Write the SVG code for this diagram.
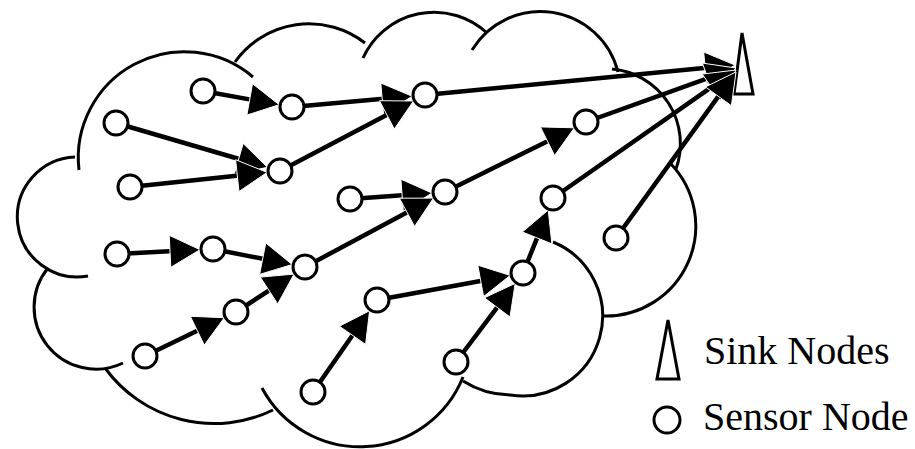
<svg xmlns="http://www.w3.org/2000/svg" width="915" height="449" viewBox="0 0 915 449">
<style>
.cloud{fill:none;stroke:#000;stroke-width:3}
.edge{stroke:#000;stroke-width:4.5;fill:none}
.ah{fill:#000;stroke:#fff;stroke-width:1;stroke-linejoin:miter}
.node{fill:#fff;stroke:#000;stroke-width:3}
.sink{fill:#fff;stroke:#000;stroke-width:3;stroke-linejoin:miter}
.lbl{font-family:"Liberation Serif","Times New Roman","DejaVu Serif",serif;font-size:40px;fill:#000}
</style>
<rect width="915" height="449" fill="#fff"/>
<g id="cloud" class="cloud">
<path d="M88,276 A60,60 0 1 1 75,157"/>
<path d="M79,170 A106,106 0 0 1 253,77"/>
<path d="M235,62 A91,91 0 0 1 365,43"/>
<path d="M363,58 A78,78 0 0 1 487,33"/>
<path d="M472,50 A80,80 0 0 1 618,72"/>
<path d="M612,69 A75,75 0 0 1 676,169"/>
<path d="M670,163 A90,90 0 0 1 603,316"/>
<path d="M553,242 A80,80 0 0 1 510,395 A91,91 0 0 1 463,381"/>
<path d="M463,377 A111,111 0 0 1 262,388"/>
<path d="M273,410 A135,135 0 0 1 105,368"/>
<path d="M123,363 A62,62 0 0 1 48,268"/>
</g>
<g id="sink">
<polygon class="sink" points="742,33 734,94 753,94"/>
</g>
<g id="connectors">
<line class="edge" x1="203" y1="91" x2="253.6" y2="100.1"/>
<polygon class="ah" points="279.2,104.7 246.9,115.1 252.5,83.7"/>
<line class="edge" x1="292" y1="107" x2="386.2" y2="98.5"/>
<polygon class="ah" points="412.1,96.2 383.6,114.8 380.8,83.0"/>
<line class="edge" x1="280" y1="171" x2="390.4" y2="113.0"/>
<polygon class="ah" points="413.5,101.0 394.3,129.1 379.5,100.7"/>
<line class="edge" x1="116" y1="123" x2="242.5" y2="160.0"/>
<polygon class="ah" points="267.5,167.3 234.2,174.3 243.2,143.5"/>
<line class="edge" x1="130" y1="187" x2="241.3" y2="175.2"/>
<polygon class="ah" points="267.1,172.4 239.0,191.5 235.6,159.7"/>
<line class="edge" x1="350" y1="199" x2="406.1" y2="194.9"/>
<polygon class="ah" points="432.0,193.0 403.3,211.2 400.9,179.2"/>
<line class="edge" x1="305" y1="267" x2="410.5" y2="210.4"/>
<polygon class="ah" points="433.5,198.1 414.6,226.4 399.4,198.2"/>
<line class="edge" x1="445" y1="192" x2="551.1" y2="139.4"/>
<polygon class="ah" points="574.4,127.8 554.6,155.5 540.4,126.9"/>
<line class="edge" x1="117" y1="254" x2="174.0" y2="251.1"/>
<polygon class="ah" points="200.0,249.7 170.8,267.3 169.2,235.3"/>
<line class="edge" x1="213" y1="249" x2="266.6" y2="259.5"/>
<polygon class="ah" points="292.2,264.5 259.6,274.4 265.8,243.0"/>
<line class="edge" x1="236" y1="312" x2="272.3" y2="288.3"/>
<polygon class="ah" points="294.1,274.1 277.7,303.9 260.3,277.1"/>
<line class="edge" x1="145" y1="356" x2="200.9" y2="329.0"/>
<polygon class="ah" points="224.3,317.7 204.3,345.1 190.3,316.3"/>
<line class="edge" x1="313" y1="392" x2="354.8" y2="332.0"/>
<polygon class="ah" points="369.6,310.7 365.6,344.4 339.4,326.2"/>
<line class="edge" x1="456" y1="362" x2="499.6" y2="304.2"/>
<polygon class="ah" points="515.2,283.4 510.0,317.0 484.4,297.8"/>
<line class="edge" x1="377" y1="300" x2="484.6" y2="280.2"/>
<polygon class="ah" points="510.2,275.4 483.6,296.6 477.8,265.2"/>
<line class="edge" x1="523" y1="273" x2="538.6" y2="234.2"/>
<polygon class="ah" points="548.2,210.1 551.9,243.8 522.3,232.0"/>
<line class="edge" x1="425" y1="95" x2="709.2" y2="67.5"/>
<polygon class="ah" points="735,65 706.7,83.8 703.7,52.0"/>
<line class="edge" x1="586" y1="122" x2="711.6" y2="76.8"/>
<polygon class="ah" points="736,68 713.2,93.3 702.4,63.1"/>
<line class="edge" x1="553" y1="198" x2="714.7" y2="84.9"/>
<polygon class="ah" points="736,70 720.6,100.3 702.2,74.1"/>
<line class="edge" x1="616" y1="238" x2="720.7" y2="93.1"/>
<polygon class="ah" points="736,72 731.4,105.7 705.4,86.9"/>
</g>
<g id="nA"><circle class="node" cx="203" cy="91" r="12"/></g>
<g id="nB"><circle class="node" cx="292" cy="107" r="12"/></g>
<g id="nC"><circle class="node" cx="425" cy="95" r="12"/></g>
<g id="nD"><circle class="node" cx="116" cy="123" r="12"/></g>
<g id="nE"><circle class="node" cx="280" cy="171" r="12"/></g>
<g id="nF"><circle class="node" cx="130" cy="187" r="12"/></g>
<g id="nG"><circle class="node" cx="350" cy="199" r="12"/></g>
<g id="nH"><circle class="node" cx="445" cy="192" r="12"/></g>
<g id="nI"><circle class="node" cx="586" cy="122" r="12"/></g>
<g id="nJ"><circle class="node" cx="553" cy="198" r="12"/></g>
<g id="nK"><circle class="node" cx="616" cy="238" r="12"/></g>
<g id="nL"><circle class="node" cx="117" cy="254" r="12"/></g>
<g id="nM"><circle class="node" cx="213" cy="249" r="12"/></g>
<g id="nN"><circle class="node" cx="305" cy="267" r="12"/></g>
<g id="nO"><circle class="node" cx="236" cy="312" r="12"/></g>
<g id="nP"><circle class="node" cx="145" cy="356" r="12"/></g>
<g id="nQ"><circle class="node" cx="377" cy="300" r="12"/></g>
<g id="nR"><circle class="node" cx="523" cy="273" r="12"/></g>
<g id="nS"><circle class="node" cx="313" cy="392" r="12"/></g>
<g id="nT"><circle class="node" cx="456" cy="362" r="12"/></g>
<g id="legend">
<polygon class="sink" points="668,320 657,379 679,379"/>
<text class="lbl" x="704" y="364" font-family="Liberation Serif, Times New Roman, DejaVu Serif, serif">Sink Nodes</text>
<circle class="node" cx="667" cy="420" r="13"/>
<text class="lbl" x="703" y="430" font-family="Liberation Serif, Times New Roman, DejaVu Serif, serif">Sensor Node</text>
</g>
</svg>
